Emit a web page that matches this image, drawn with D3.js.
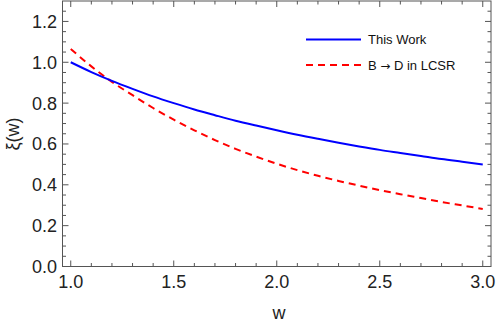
<!DOCTYPE html>
<html lang='en'>
    <head>
        <meta charset="utf-8">
        <title>Isgur-Wise function</title>
        <script src='https://d3js.org/d3.v7.min.js'></script>
        <style>
            body { margin: 0; background: #fff; }
            text { font-family: 'Liberation Sans', Arial, sans-serif; }
        </style>
    </head>
    <body>
        <script type='text/javascript'>
            var w = 498;
            var h = 324;

            // values
            var wValues = [1.0, 1.1, 1.2, 1.3, 1.4, 1.5, 1.6, 1.7, 1.8, 1.9, 2.0,
                           2.1, 2.2, 2.3, 2.4, 2.5, 2.6, 2.7, 2.8, 2.9, 3.0];
            var thisWork = [1.000, 0.952, 0.909, 0.870, 0.833, 0.800, 0.769, 0.741, 0.714, 0.690, 0.667,
                            0.645, 0.625, 0.606, 0.588, 0.571, 0.556, 0.541, 0.526, 0.513, 0.500];
            var lcsr = [1.065, 0.980, 0.904, 0.839, 0.776, 0.719, 0.667, 0.619, 0.576, 0.538, 0.503,
                        0.472, 0.444, 0.419, 0.396, 0.374, 0.354, 0.335, 0.316, 0.299, 0.282];
            var xTicks = [1.0, 1.5, 2.0, 2.5, 3.0];
            var yTicks = [0.0, 0.2, 0.4, 0.6, 0.8, 1.0, 1.2];
            var seriesNames = [['This Work'], ['B ', '\u2192', ' D in LCSR']];

            var padL = 62.5, padR = 491, padT = 1, padB = 266.5;

            var xScale = d3.scaleLinear().domain([0.96, 3.04]).range([padL, padR]);
            var yScale = d3.scaleLinear().domain([0, 1.3]).range([padB, padT]);

            var svg = d3.select('body').append('svg')
                .attr('width', w)
                .attr('height', h);

            var frameColor = '#555';

            //minor ticks
            var xMinor = d3.range(1.0, 3.0001, 0.1).filter(function(d){
                return xTicks.every(function(t){ return Math.abs(t - d) > 1e-6; });
            });
            var yMinor = d3.range(0, 1.3, 0.05).filter(function(d){
                return yTicks.every(function(t){ return Math.abs(t - d) > 1e-6; });
            });

            function tickLines(g, vals, len, horizontal) {
                vals.forEach(function(d){
                    if (horizontal) {
                        var x = xScale(d);
                        g.append('line').attr('x1', x).attr('x2', x).attr('y1', padB).attr('y2', padB - len);
                        g.append('line').attr('x1', x).attr('x2', x).attr('y1', padT).attr('y2', padT + len);
                    } else {
                        var y = yScale(d);
                        g.append('line').attr('y1', y).attr('y2', y).attr('x1', padL).attr('x2', padL + len);
                        g.append('line').attr('y1', y).attr('y2', y).attr('x1', padR).attr('x2', padR - len);
                    }
                });
            }

            var ticks = svg.append('g')
                .attr('stroke', frameColor)
                .attr('stroke-width', 1);
            tickLines(ticks, xTicks, 6, true);
            tickLines(ticks, xMinor, 3.5, true);
            tickLines(ticks, yTicks, 6, false);
            tickLines(ticks, yMinor, 3.5, false);

            //frame
            svg.append('rect')
                .attr('x', padL)
                .attr('y', padT)
                .attr('width', padR - padL)
                .attr('height', padB - padT)
                .attr('fill', 'none')
                .attr('stroke', frameColor)
                .attr('stroke-width', 1);

            //tick labels
            svg.selectAll('text.xt')
                .data(xTicks)
                .enter()
                .append('text')
                .attr('class', 'xt')
                .attr('x', function(d){ return xScale(d); })
                .attr('y', 288)
                .attr('text-anchor', 'middle')
                .attr('font-size', '18px')
                .attr('fill', '#222')
                .text(function(d){ return d.toFixed(1); });

            svg.selectAll('text.yt')
                .data(yTicks)
                .enter()
                .append('text')
                .attr('class', 'yt')
                .attr('x', 57)
                .attr('y', function(d){ return yScale(d) + 6.5; })
                .attr('text-anchor', 'end')
                .attr('font-size', '18px')
                .attr('fill', '#222')
                .text(function(d){ return d.toFixed(1); });

            //axis labels
            svg.append('text')
                .attr('x', 279)
                .attr('y', 319)
                .attr('text-anchor', 'middle')
                .attr('font-size', '18px')
                .attr('fill', '#222')
                .text('w');

            svg.append('text')
                .attr('transform', 'translate(19,134) rotate(-90)')
                .attr('text-anchor', 'middle')
                .attr('font-size', '18px')
                .attr('fill', '#222')
                .text('\u03BE(w)');

            //curves
            var line = d3.line()
                .x(function(d){ return xScale(d[0]); })
                .y(function(d){ return yScale(d[1]); })
                .curve(d3.curveMonotoneX);

            svg.append('path')
                .datum(wValues.map(function(d, i){ return [d, lcsr[i]]; }))
                .attr('d', line)
                .attr('fill', 'none')
                .attr('stroke', '#f00')
                .attr('stroke-width', 2)
                .attr('stroke-dasharray', '7,5');

            svg.append('path')
                .datum(wValues.map(function(d, i){ return [d, thisWork[i]]; }))
                .attr('d', line)
                .attr('fill', 'none')
                .attr('stroke', '#00f')
                .attr('stroke-width', 2);

            //legend
            var legend = svg.append('g');
            var legendColors = ['#00f', '#f00'];
            var legendDash = [null, '7,5'];
            seriesNames.forEach(function(parts, i){
                var y = 39.5 + i * 25.5;
                legend.append('line')
                    .attr('x1', 306).attr('x2', 361)
                    .attr('y1', y).attr('y2', y)
                    .attr('stroke', legendColors[i])
                    .attr('stroke-width', 2)
                    .attr('stroke-dasharray', legendDash[i]);
                var t = legend.append('text')
                    .attr('x', 368)
                    .attr('y', y + 4.5)
                    .attr('font-size', '13px')
                    .attr('fill', '#111');
                parts.forEach(function(p){
                    var span = t.append('tspan').text(p);
                    if (p === '\u2192') span.style('font-family', "'DejaVu Sans', sans-serif").attr('font-size', '12px');
                });
            });
        </script>
    </body>
</html>
